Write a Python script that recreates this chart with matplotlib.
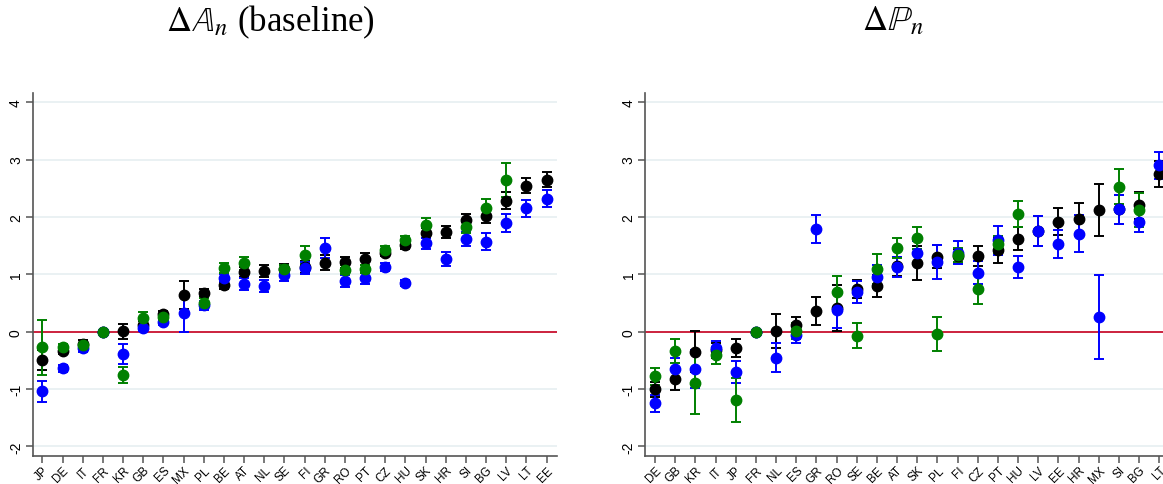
import numpy as np
import matplotlib
matplotlib.use("Agg")
import matplotlib.pyplot as plt

plt.rcParams['font.family'] = ['Liberation Sans', 'DejaVu Sans']
plt.rcParams['mathtext.fontset'] = 'stix'

nan = np.nan

# left panel: change in A_n (baseline)
countries_a = ['JP', 'DE', 'IT', 'FR', 'KR', 'GB', 'ES', 'MX', 'PL', 'BE', 'AT', 'NL', 'SE',
               'FI', 'GR', 'RO', 'PT', 'CZ', 'HU', 'SK', 'HR', 'SI', 'BG', 'LV', 'LT', 'EE']
black_a = [-0.49, -0.33, -0.21, 0, 0.01, 0.12, 0.31, 0.64, 0.68, 0.81, 1.04, 1.06, 1.10,
           1.13, 1.20, 1.21, 1.27, 1.38, 1.51, 1.72, 1.74, 1.95, 2.02, 2.28, 2.54, 2.65]
black_a_err = [0.17, 0.05, 0.06, 0, 0.13, 0.06, 0.05, 0.24, 0.07, 0.06, 0.08, 0.10, 0.08,
               0.10, 0.13, 0.10, 0.10, 0.06, 0.06, 0.09, 0.10, 0.11, 0.12, 0.15, 0.13, 0.13]
green_a = [-0.27, -0.27, -0.24, 0, -0.76, 0.24, 0.26, nan, 0.50, 1.11, 1.19, nan, 1.10,
           1.34, nan, 1.08, 1.10, 1.42, 1.59, 1.86, nan, 1.82, 2.16, 2.64, nan, nan]
green_a_err = [0.48, 0.06, 0.05, 0, 0.14, 0.11, 0.05, nan, 0.08, 0.08, 0.12, nan, 0.07,
               0.16, nan, 0.08, 0.07, 0.08, 0.08, 0.13, nan, 0.10, 0.16, 0.30, nan, nan]
blue_a = [-1.04, -0.64, -0.29, 0, -0.39, 0.07, 0.17, 0.32, 0.46, 0.93, 0.83, 0.80, 0.98,
          1.11, 1.46, 0.88, 0.93, 1.13, 0.85, 1.54, 1.27, 1.62, 1.57, 1.89, 2.15, 2.32]
blue_a_err = [0.18, 0.06, 0.06, 0, 0.17, 0.05, 0.06, 0.32, 0.08, 0.07, 0.10, 0.10, 0.10,
              0.10, 0.17, 0.10, 0.10, 0.07, 0.05, 0.10, 0.12, 0.12, 0.15, 0.16, 0.15, 0.15]

# right panel: change in P_n
countries_p = ['DE', 'GB', 'KR', 'IT', 'JP', 'FR', 'NL', 'ES', 'GR', 'RO', 'SE', 'BE', 'AT',
               'SK', 'PL', 'FI', 'CZ', 'PT', 'HU', 'LV', 'EE', 'HR', 'MX', 'SI', 'BG', 'LT']
black_p = [-1.00, -0.82, -0.35, -0.32, -0.28, 0, 0.01, 0.11, 0.36, 0.41, 0.74, 0.80, 1.14,
           1.20, 1.31, 1.32, 1.32, 1.42, 1.62, 1.75, 1.92, 1.96, 2.12, 2.13, 2.20, 2.75]
black_p_err = [0.13, 0.19, 0.36, 0.13, 0.16, 0, 0.30, 0.14, 0.24, 0.40, 0.16, 0.19, 0.17,
               0.30, 0.20, 0.12, 0.18, 0.22, 0.20, 0.26, 0.23, 0.29, 0.45, 0.26, 0.23, 0.23]
green_p = [-0.78, -0.33, -0.90, -0.41, -1.19, 0, nan, 0.02, nan, 0.70, -0.07, 1.10, 1.46,
           1.64, -0.04, 1.34, 0.74, 1.52, 2.05, nan, nan, nan, nan, 2.53, 2.12, nan]
green_p_err = [0.15, 0.21, 0.54, 0.15, 0.38, 0, nan, 0.14, nan, 0.27, 0.22, 0.26, 0.17,
               0.19, 0.30, 0.12, 0.26, 0.15, 0.22, nan, nan, nan, nan, 0.30, 0.29, nan]
blue_p = [-1.25, -0.65, -0.65, -0.29, -0.70, 0, -0.45, -0.05, 1.79, 0.38, 0.69, 0.96, 1.13,
          1.38, 1.21, 1.38, 1.03, 1.59, 1.13, 1.75, 1.53, 1.71, 0.26, 2.13, 1.92, 2.90]
blue_p_err = [0.15, 0.19, 0.33, 0.13, 0.19, 0, 0.25, 0.15, 0.25, 0.32, 0.19, 0.20, 0.17,
              0.20, 0.30, 0.20, 0.20, 0.25, 0.19, 0.26, 0.24, 0.32, 0.73, 0.25, 0.18, 0.24]

GRID = '#e6eff1'
SPINE = '#555555'


def panel(ax, countries, series):
    x = np.arange(len(countries))
    for y in [-2, -1, 1, 2, 3, 4]:
        ax.axhline(y, color=GRID, lw=1.2, zorder=0)
    ax.axhline(0, color='#c8102e', lw=1.3, zorder=1)
    for vals, errs, col in series:
        ax.errorbar(x, vals, yerr=errs, fmt='o', color=col, ms=7.5, elinewidth=1.4,
                    capsize=3.5, capthick=1.4, zorder=3)
    ax.set_xlim(-0.48, len(countries) - 0.5)
    ax.set_ylim(-2.16, 4.16)
    ax.set_xticks(x)
    ax.set_xticklabels(countries, rotation=45, ha='right', rotation_mode='anchor', fontsize=8.5)
    ax.set_yticks([-2, -1, 0, 1, 2, 3, 4])
    ax.set_yticklabels(['-2', '-1', '0', '1', '2', '3', '4'], rotation=90, va='center', fontsize=10)
    for s in ['top', 'right']:
        ax.spines[s].set_visible(False)
    for s in ['left', 'bottom']:
        ax.spines[s].set_color(SPINE)
        ax.spines[s].set_linewidth(1.2)
    ax.tick_params(axis='both', direction='out', length=5, width=1.1, color=SPINE, pad=2)
    ax.tick_params(axis='x', pad=1)


fig = plt.figure(figsize=(11.63, 4.85), dpi=100)
ax1 = fig.add_axes([0.0281, 0.0584, 0.4506, 0.7478])
ax2 = fig.add_axes([0.5549, 0.0584, 0.4506, 0.7478])

panel(ax1, countries_a, [(black_a, black_a_err, 'black'),
                         (blue_a, blue_a_err, 'blue'),
                         (green_a, green_a_err, 'green')])
panel(ax2, countries_p, [(black_p, black_p_err, 'black'),
                         (blue_p, blue_p_err, 'blue'),
                         (green_p, green_p_err, 'green')])

fig.text(270 / 1163, 1 - 22 / 485, r'$\Delta\mathbb{A}_n$ (baseline)', ha='center', va='center',
         fontsize=25, family=['Liberation Serif', 'DejaVu Serif'])
fig.text(893 / 1163, 1 - 22 / 485, r'$\Delta\mathbb{P}_n$', ha='center', va='center',
         fontsize=25, family=['Liberation Serif', 'DejaVu Serif'])

fig.savefig('out.png', dpi=100)
